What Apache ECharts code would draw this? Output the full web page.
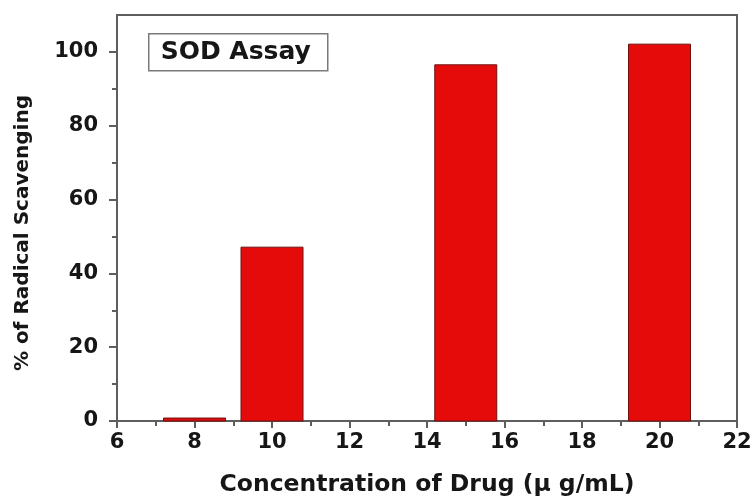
<!DOCTYPE html>
<html>
<head>
<meta charset="utf-8">
<script src="https://cdn.jsdelivr.net/npm/echarts@6/dist/echarts.min.js"></script>
<style>
html,body{margin:0;padding:0;background:#fff;}
#chart{width:754px;height:496px;}
</style>
</head>
<body>
<div id="chart"></div>
<script>
// Data
var concentrations = [8, 10, 15, 20];
var scavenging = [0.8, 47.1, 96.5, 102.1];
var yLabelTicks = [0, 20, 40, 60, 80, 100];
var yMinorTicks = [10, 30, 50, 70, 90];
var xTitle = 'Concentration of Drug (\u03bc g/mL)';
var yTitle = '% of Radical Scavenging';
var boxText = 'SOD Assay';

var FONT = 'DejaVu Sans';
var AXIS_COLOR = '#5e5e5e';
var TEXT_COLOR = '#161616';
var BAR_HALF_WIDTH = 0.8;

var barData = concentrations.map(function (c, i) { return [c, scavenging[i]]; });

var chart = echarts.init(document.getElementById('chart'));
chart.setOption({
  animation: false,
  backgroundColor: '#ffffff',
  grid: {
    left: 117, right: 17, top: 15, bottom: 75,
    show: true, borderColor: AXIS_COLOR, borderWidth: 2,
    outerBoundsMode: 'none'
  },
  xAxis: {
    type: 'value', min: 6, max: 22, interval: 2,
    axisLine: { show: true, lineStyle: { color: AXIS_COLOR, width: 2 } },
    axisTick: { show: true, inside: false, length: 7, lineStyle: { color: AXIS_COLOR, width: 2 } },
    minorTick: { show: true, splitNumber: 2, length: 5, lineStyle: { color: AXIS_COLOR, width: 2 } },
    splitLine: { show: false },
    minorSplitLine: { show: false },
    axisLabel: { color: TEXT_COLOR, fontFamily: FONT, fontWeight: 'bold', fontSize: 21, margin: 11 },
    name: xTitle, nameLocation: 'middle', nameGap: 52,
    nameTextStyle: { color: TEXT_COLOR, fontFamily: FONT, fontWeight: 'bold', fontSize: 23.5 }
  },
  yAxis: [{
    type: 'value', min: 0, max: 110,
    axisLine: { show: true, lineStyle: { color: AXIS_COLOR, width: 2 } },
    axisTick: { show: true, inside: false, length: 8, customValues: yLabelTicks, lineStyle: { color: AXIS_COLOR, width: 2 } },
    splitLine: { show: false },
    axisLabel: { color: TEXT_COLOR, fontFamily: FONT, fontWeight: 'bold', fontSize: 21, margin: 19, customValues: yLabelTicks },
    name: yTitle, nameLocation: 'middle', nameGap: 84, nameRotate: 90,
    nameTextStyle: { color: TEXT_COLOR, fontFamily: FONT, fontWeight: 'bold', fontSize: 20, padding: [0, 30, 0, 0] }
  }, {
    type: 'value', min: 0, max: 110, position: 'left',
    axisLine: { show: false },
    axisTick: { show: true, inside: false, length: 5, customValues: yMinorTicks, lineStyle: { color: AXIS_COLOR, width: 2 } },
    splitLine: { show: false },
    axisLabel: { show: false }
  }],
  series: [{
    type: 'custom',
    data: barData,
    renderItem: function (params, api) {
      var x = api.value(0), v = api.value(1);
      var p1 = api.coord([x - BAR_HALF_WIDTH, v]);
      var p2 = api.coord([x + BAR_HALF_WIDTH, 0]);
      return {
        type: 'rect',
        shape: { x: p1[0], y: p1[1], width: p2[0] - p1[0], height: p2[1] - p1[1] },
        style: { fill: '#e50b0b', stroke: '#6e1010', lineWidth: 1 }
      };
    }
  }],
  graphic: [{
    type: 'group', left: 148, top: 33,
    children: [{
      type: 'rect',
      shape: { x: 0, y: 0, width: 179, height: 37 },
      style: { fill: '#fff', stroke: '#7a7a7a', lineWidth: 1.5 }
    }, {
      type: 'text',
      x: 87, y: 19,
      style: { text: boxText, fill: TEXT_COLOR, font: 'bold 25px "DejaVu Sans"', align: 'center', verticalAlign: 'middle' }
    }]
  }]
});
</script>
</body>
</html>
